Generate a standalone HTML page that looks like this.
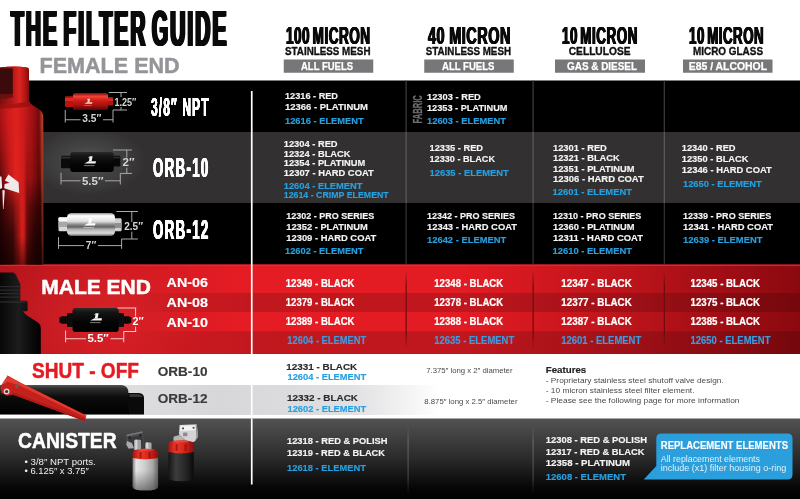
<!DOCTYPE html>
<html lang="en">
<head>
<meta charset="utf-8">
<title>The Filter Guide</title>
<style>
html,body{margin:0;padding:0;background:#fff;}
#root{position:relative;width:800px;height:499px;overflow:hidden;background:#fff;font-family:'Liberation Sans', sans-serif;}
#root svg{position:absolute;left:0;top:0;display:block;}
svg text{font-family:'Liberation Sans', sans-serif;white-space:pre;}
.h{position:absolute;white-space:nowrap;font-weight:bold;line-height:1;transform-origin:0 0;margin:0;}
</style>
</head>
<body>
<div id="root">
<svg width="800" height="499" viewBox="0 0 800 499">
<defs>
<linearGradient id="gRedBand" x1="0" y1="0" x2="800" y2="0" gradientUnits="userSpaceOnUse">
 <stop offset="0" stop-color="#b5141b"/><stop offset="0.10" stop-color="#c8191f"/>
 <stop offset="0.30" stop-color="#e51c24"/><stop offset="0.58" stop-color="#e31b23"/>
 <stop offset="0.80" stop-color="#b9131a"/><stop offset="1" stop-color="#8a090f"/>
</linearGradient>
<linearGradient id="gStripeFade" x1="120" y1="0" x2="800" y2="0" gradientUnits="userSpaceOnUse">
 <stop offset="0" stop-color="#000" stop-opacity="0"/><stop offset="0.19" stop-color="#000" stop-opacity="0.16"/>
 <stop offset="1" stop-color="#000" stop-opacity="0.16"/>
</linearGradient>
<linearGradient id="gCan" x1="0" y1="418" x2="0" y2="499" gradientUnits="userSpaceOnUse">
 <stop offset="0" stop-color="#535353"/><stop offset="0.5" stop-color="#2a2a2a"/><stop offset="0.86" stop-color="#060606"/><stop offset="1" stop-color="#000"/>
</linearGradient>
<linearGradient id="gGrayStripe" x1="0" y1="0" x2="440" y2="0" gradientUnits="userSpaceOnUse">
 <stop offset="0" stop-color="#e6e6e8"/><stop offset="0.5" stop-color="#d7d7d9"/><stop offset="0.8" stop-color="#e0e0e2"/><stop offset="1" stop-color="#ffffff"/>
</linearGradient>
<radialGradient id="gGlow2" cx="88" cy="161" r="58" gradientUnits="userSpaceOnUse" gradientTransform="translate(88 161) scale(1 0.6) translate(-88 -161)">
 <stop offset="0" stop-color="#585858"/><stop offset="0.4" stop-color="#464546"/><stop offset="1" stop-color="#323031" />
</radialGradient>
<radialGradient id="gGlowRed" cx="95" cy="318" r="110" gradientUnits="userSpaceOnUse" gradientTransform="translate(95 318) scale(1 0.6) translate(-95 -318)">
 <stop offset="0" stop-color="#e8323a" stop-opacity="0.32"/><stop offset="1" stop-color="#e8323a" stop-opacity="0"/>
</radialGradient>
<linearGradient id="gBigRed" x1="0" y1="0" x2="43.3" y2="0" gradientUnits="userSpaceOnUse">
 <stop offset="0" stop-color="#a81214"/><stop offset="0.2" stop-color="#cf1c1b"/><stop offset="0.38" stop-color="#df221e"/>
 <stop offset="0.55" stop-color="#c91a1a"/><stop offset="0.75" stop-color="#a01114"/><stop offset="0.9" stop-color="#74090b"/>
 <stop offset="0.96" stop-color="#a8331f"/><stop offset="1" stop-color="#b5432c"/>
</linearGradient>
<linearGradient id="gNeck" x1="0" y1="0" x2="29" y2="0" gradientUnits="userSpaceOnUse">
 <stop offset="0" stop-color="#7a0d0e"/><stop offset="0.45" stop-color="#b81718"/><stop offset="0.68" stop-color="#de241e"/>
 <stop offset="0.9" stop-color="#aa1414"/><stop offset="1" stop-color="#7e0b0c"/>
</linearGradient>
<linearGradient id="gBigDarkH" x1="0" y1="0" x2="43.3" y2="0" gradientUnits="userSpaceOnUse">
 <stop offset="0" stop-color="#2a0303" stop-opacity="0.95"/><stop offset="0.1" stop-color="#2a0303" stop-opacity="0.55"/><stop offset="0.25" stop-color="#2a0303" stop-opacity="0.1"/>
 <stop offset="0.32" stop-color="#e8241f" stop-opacity="0.35"/><stop offset="0.55" stop-color="#e8241f" stop-opacity="0.35"/>
 <stop offset="0.62" stop-color="#2a0303" stop-opacity="0.4"/><stop offset="0.70" stop-color="#2a0303" stop-opacity="0.22"/><stop offset="0.85" stop-color="#2a0303" stop-opacity="0.32"/>
 <stop offset="0.94" stop-color="#2a0303" stop-opacity="0.75"/><stop offset="0.965" stop-color="#2a0303" stop-opacity="0.15"/><stop offset="1" stop-color="#2a0303" stop-opacity="0.25"/>
</linearGradient>
<linearGradient id="gBigLowH" x1="0" y1="0" x2="43.3" y2="0" gradientUnits="userSpaceOnUse">
 <stop offset="0" stop-color="#160202" stop-opacity="0.88"/><stop offset="0.3" stop-color="#160202" stop-opacity="0.84"/><stop offset="0.43" stop-color="#160202" stop-opacity="0.4"/>
 <stop offset="0.5" stop-color="#160202" stop-opacity="0.0"/><stop offset="0.57" stop-color="#160202" stop-opacity="0.05"/><stop offset="0.67" stop-color="#160202" stop-opacity="0.62"/>
 <stop offset="0.8" stop-color="#160202" stop-opacity="0.86"/><stop offset="0.95" stop-color="#160202" stop-opacity="0.88"/><stop offset="0.975" stop-color="#160202" stop-opacity="0.35"/><stop offset="1" stop-color="#160202" stop-opacity="0.4"/>
</linearGradient>
<linearGradient id="gBigBot" x1="0" y1="236" x2="0" y2="264.5" gradientUnits="userSpaceOnUse">
 <stop offset="0" stop-color="#100" stop-opacity="0"/><stop offset="1" stop-color="#100" stop-opacity="0.5"/>
</linearGradient>
<linearGradient id="gBigMaskLow" x1="0" y1="180" x2="0" y2="265" gradientUnits="userSpaceOnUse">
 <stop offset="0" stop-color="#fff" stop-opacity="0"/><stop offset="0.3" stop-color="#fff" stop-opacity="0.6"/><stop offset="0.65" stop-color="#fff" stop-opacity="0.95"/><stop offset="1" stop-color="#fff" stop-opacity="1"/>
</linearGradient>
<mask id="mBigLow" maskUnits="userSpaceOnUse" x="0" y="180" width="44" height="85"><rect x="0" y="180" width="44" height="85" fill="url(#gBigMaskLow)"/></mask>
<linearGradient id="gBigMaskV" x1="0" y1="118" x2="0" y2="265" gradientUnits="userSpaceOnUse">
 <stop offset="0" stop-color="#fff" stop-opacity="0"/><stop offset="0.2" stop-color="#fff" stop-opacity="0.25"/><stop offset="0.45" stop-color="#fff" stop-opacity="0.7"/><stop offset="1" stop-color="#fff" stop-opacity="1"/>
</linearGradient>
<mask id="mBig" maskUnits="userSpaceOnUse" x="0" y="118" width="44" height="147"><rect x="0" y="118" width="44" height="147" fill="url(#gBigMaskV)"/></mask>
<linearGradient id="gSmallRed" x1="0" y1="93" x2="0" y2="110" gradientUnits="userSpaceOnUse">
 <stop offset="0" stop-color="#7e0a0a"/><stop offset="0.2" stop-color="#f04436"/><stop offset="0.42" stop-color="#d21d18"/><stop offset="0.72" stop-color="#a81210"/><stop offset="1" stop-color="#520505"/>
</linearGradient>
<linearGradient id="gBlk10" x1="0" y1="152" x2="0" y2="172" gradientUnits="userSpaceOnUse">
 <stop offset="0" stop-color="#2a2a2a"/><stop offset="0.2" stop-color="#161616"/><stop offset="0.6" stop-color="#050505"/><stop offset="1" stop-color="#000"/>
</linearGradient>
<linearGradient id="gSilver" x1="0" y1="213" x2="0" y2="236" gradientUnits="userSpaceOnUse">
 <stop offset="0" stop-color="#8e8e8e"/><stop offset="0.12" stop-color="#ffffff"/><stop offset="0.36" stop-color="#e0e0e0"/><stop offset="0.5" stop-color="#8c8c8c"/>
 <stop offset="0.6" stop-color="#636363"/><stop offset="0.72" stop-color="#b4b4b4"/><stop offset="0.88" stop-color="#dcdcdc"/><stop offset="1" stop-color="#5e5e5e"/>
</linearGradient>
<linearGradient id="gBlkM" x1="0" y1="308" x2="0" y2="332" gradientUnits="userSpaceOnUse">
 <stop offset="0" stop-color="#2c2c2c"/><stop offset="0.18" stop-color="#141414"/><stop offset="0.6" stop-color="#040404"/><stop offset="1" stop-color="#000"/>
</linearGradient>
<linearGradient id="gBigBlk" x1="0" y1="0" x2="41" y2="0" gradientUnits="userSpaceOnUse">
 <stop offset="0" stop-color="#070707"/><stop offset="0.45" stop-color="#1d1d1d"/><stop offset="0.75" stop-color="#0c0c0c"/><stop offset="1" stop-color="#000"/>
</linearGradient>
<linearGradient id="gShutCyl" x1="0" y1="385" x2="0" y2="415" gradientUnits="userSpaceOnUse">
 <stop offset="0" stop-color="#555"/><stop offset="0.12" stop-color="#2e2e2e"/><stop offset="0.4" stop-color="#0c0c0c"/><stop offset="1" stop-color="#000"/>
</linearGradient>
<linearGradient id="gLever" x1="0" y1="0" x2="0" y2="1">
 <stop offset="0" stop-color="#e23028"/><stop offset="1" stop-color="#b81a17"/>
</linearGradient>
<linearGradient id="gCanSilver" x1="132.6" y1="0" x2="158.1" y2="0" gradientUnits="userSpaceOnUse">
 <stop offset="0" stop-color="#7f7f7f"/><stop offset="0.14" stop-color="#e6e6e6"/><stop offset="0.45" stop-color="#d0d0d0"/><stop offset="0.78" stop-color="#a8a8a8"/><stop offset="1" stop-color="#666"/>
</linearGradient>
<linearGradient id="gCanBlack" x1="168.4" y1="0" x2="193.7" y2="0" gradientUnits="userSpaceOnUse">
 <stop offset="0" stop-color="#151515"/><stop offset="0.3" stop-color="#3c3c3c"/><stop offset="0.7" stop-color="#252525"/><stop offset="1" stop-color="#0a0a0a"/>
</linearGradient>
<linearGradient id="gCanSilverV" x1="0" y1="470" x2="0" y2="490.3" gradientUnits="userSpaceOnUse">
 <stop offset="0" stop-color="#444" stop-opacity="0"/><stop offset="1" stop-color="#333" stop-opacity="0.55"/>
</linearGradient>
<linearGradient id="gCanRed" x1="0" y1="0" x2="1" y2="0">
 <stop offset="0" stop-color="#a81410"/><stop offset="0.3" stop-color="#ee3a2c"/><stop offset="0.7" stop-color="#cf1f18"/><stop offset="1" stop-color="#8c0e0b"/>
</linearGradient>
<linearGradient id="gDivRed" x1="0" y1="270" x2="0" y2="350" gradientUnits="userSpaceOnUse">
 <stop offset="0" stop-color="#6d0a0e" stop-opacity="0"/><stop offset="0.2" stop-color="#6d0a0e" stop-opacity="0.9"/><stop offset="0.8" stop-color="#6d0a0e" stop-opacity="0.9"/><stop offset="1" stop-color="#6d0a0e" stop-opacity="0"/>
</linearGradient>
<linearGradient id="gDivCan" x1="0" y1="425" x2="0" y2="495" gradientUnits="userSpaceOnUse">
 <stop offset="0" stop-color="#777" stop-opacity="0"/><stop offset="0.25" stop-color="#777" stop-opacity="0.7"/><stop offset="0.75" stop-color="#555" stop-opacity="0.7"/><stop offset="1" stop-color="#444" stop-opacity="0"/>
</linearGradient>
</defs>
<rect x="0" y="0" width="800" height="499" fill="#fff"/>
<rect x="0" y="80.5" width="800" height="52" fill="#000"/>
<rect x="0" y="132" width="800" height="71" fill="#323031"/>
<rect x="40" y="132" width="215" height="71" fill="url(#gGlow2)"/>
<rect x="0" y="203" width="800" height="62" fill="#000"/>
<rect x="0" y="264.5" width="800" height="89.5" fill="url(#gRedBand)"/>
<rect x="0" y="264.5" width="260" height="89.5" fill="url(#gGlowRed)"/>
<rect x="120" y="293" width="680" height="19" fill="url(#gStripeFade)"/>
<rect x="120" y="331.25" width="680" height="22.75" fill="url(#gStripeFade)"/>
<rect x="0" y="264.5" width="800" height="1.5" fill="#ee2a31" opacity="0.8"/>
<rect x="0" y="385" width="440" height="30" fill="url(#gGrayStripe)"/>
<rect x="0" y="418.5" width="800" height="81" fill="url(#gCan)"/>
<rect x="250.9" y="91" width="1.7" height="263" fill="#fff"/>
<rect x="250.9" y="385" width="1.7" height="30" fill="#fff"/>
<rect x="250.9" y="418.5" width="1.7" height="66" fill="#fff"/>
<rect x="405.5" y="80.5" width="1.2" height="51.5" fill="#3e3e3e"/>
<rect x="405.5" y="132" width="1.2" height="71" fill="#5c5b5c"/>
<rect x="405.5" y="203" width="1.2" height="61.5" fill="#363636"/>
<rect x="405.5" y="272" width="1.3" height="76" fill="url(#gDivRed)"/>
<rect x="532.5" y="80.5" width="1.2" height="51.5" fill="#3e3e3e"/>
<rect x="532.5" y="132" width="1.2" height="71" fill="#5c5b5c"/>
<rect x="532.5" y="203" width="1.2" height="61.5" fill="#363636"/>
<rect x="532.5" y="272" width="1.3" height="76" fill="url(#gDivRed)"/>
<rect x="663.7" y="80.5" width="1.2" height="51.5" fill="#3e3e3e"/>
<rect x="663.7" y="132" width="1.2" height="71" fill="#5c5b5c"/>
<rect x="663.7" y="203" width="1.2" height="61.5" fill="#363636"/>
<rect x="663.7" y="272" width="1.3" height="76" fill="url(#gDivRed)"/>
<rect x="407.5" y="425" width="1.2" height="70" fill="url(#gDivCan)"/>
<rect x="532.5" y="425" width="1.2" height="70" fill="url(#gDivCan)"/>
<rect x="283.75" y="59.5" width="89.5" height="13.25" fill="#77777a"/>
<text x="285.00" y="54.70" font-size="10.8" fill="#111" font-weight="bold" stroke="#111" stroke-width="0.35" stroke-linejoin="round" textLength="85.50" lengthAdjust="spacingAndGlyphs">STAINLESS MESH</text>
<text x="301.00" y="69.90" font-size="10.2" fill="#fff" font-weight="bold" stroke="#fff" stroke-width="0.25" stroke-linejoin="round" textLength="52.00" lengthAdjust="spacingAndGlyphs">ALL FUELS</text>
<rect x="424.25" y="59.5" width="89.5" height="13.25" fill="#77777a"/>
<text x="425.75" y="54.70" font-size="10.8" fill="#111" font-weight="bold" stroke="#111" stroke-width="0.35" stroke-linejoin="round" textLength="85.25" lengthAdjust="spacingAndGlyphs">STAINLESS MESH</text>
<text x="442.00" y="69.90" font-size="10.2" fill="#fff" font-weight="bold" stroke="#fff" stroke-width="0.25" stroke-linejoin="round" textLength="52.50" lengthAdjust="spacingAndGlyphs">ALL FUELS</text>
<rect x="555" y="59.5" width="90" height="13.25" fill="#77777a"/>
<text x="568.75" y="54.70" font-size="10.8" fill="#111" font-weight="bold" stroke="#111" stroke-width="0.35" stroke-linejoin="round" textLength="61.75" lengthAdjust="spacingAndGlyphs">CELLULOSE</text>
<text x="567.00" y="69.90" font-size="10.2" fill="#fff" font-weight="bold" stroke="#fff" stroke-width="0.25" stroke-linejoin="round" textLength="70.00" lengthAdjust="spacingAndGlyphs">GAS &amp; DIESEL</text>
<rect x="683" y="59.5" width="89.5" height="13.25" fill="#77777a"/>
<text x="693.00" y="54.70" font-size="10.8" fill="#111" font-weight="bold" stroke="#111" stroke-width="0.35" stroke-linejoin="round" textLength="70.00" lengthAdjust="spacingAndGlyphs">MICRO GLASS</text>
<text x="688.75" y="69.90" font-size="10.2" fill="#fff" font-weight="bold" stroke="#fff" stroke-width="0.25" stroke-linejoin="round" textLength="78.25" lengthAdjust="spacingAndGlyphs">E85 / ALCOHOL</text>
<text x="285.00" y="99.20" font-size="9.6" fill="#f4f4f4" font-weight="bold" stroke="#f4f4f4" stroke-width="0.16" stroke-linejoin="round" textLength="53.00" lengthAdjust="spacingAndGlyphs">12316 - RED</text>
<text x="285.00" y="110.00" font-size="9.6" fill="#f4f4f4" font-weight="bold" stroke="#f4f4f4" stroke-width="0.16" stroke-linejoin="round" textLength="83.00" lengthAdjust="spacingAndGlyphs">12366 - PLATINUM</text>
<text x="285.00" y="124.00" font-size="9.6" fill="#27a0e0" font-weight="bold" stroke="#27a0e0" stroke-width="0.16" stroke-linejoin="round" textLength="78.75" lengthAdjust="spacingAndGlyphs">12616 - ELEMENT</text>
<text x="283.75" y="146.75" font-size="9.6" fill="#f4f4f4" font-weight="bold" stroke="#f4f4f4" stroke-width="0.16" stroke-linejoin="round" textLength="53.83" lengthAdjust="spacingAndGlyphs">12304 - RED</text>
<text x="283.75" y="156.75" font-size="9.6" fill="#f4f4f4" font-weight="bold" stroke="#f4f4f4" stroke-width="0.16" stroke-linejoin="round" textLength="66.75" lengthAdjust="spacingAndGlyphs">12324 - BLACK</text>
<text x="283.75" y="166.25" font-size="9.6" fill="#f4f4f4" font-weight="bold" stroke="#f4f4f4" stroke-width="0.16" stroke-linejoin="round" textLength="81.58" lengthAdjust="spacingAndGlyphs">12354 - PLATINUM</text>
<text x="283.75" y="175.75" font-size="9.6" fill="#f4f4f4" font-weight="bold" stroke="#f4f4f4" stroke-width="0.16" stroke-linejoin="round" textLength="90.00" lengthAdjust="spacingAndGlyphs">12307 - HARD COAT</text>
<text x="283.75" y="188.75" font-size="9.6" fill="#27a0e0" font-weight="bold" stroke="#27a0e0" stroke-width="0.16" stroke-linejoin="round" textLength="78.75" lengthAdjust="spacingAndGlyphs">12604 - ELEMENT</text>
<text x="283.75" y="197.50" font-size="9.6" fill="#27a0e0" font-weight="bold" stroke="#27a0e0" stroke-width="0.16" stroke-linejoin="round" textLength="105.00" lengthAdjust="spacingAndGlyphs">12614 - CRIMP ELEMENT</text>
<text x="286.25" y="218.75" font-size="9.6" fill="#f4f4f4" font-weight="bold" stroke="#f4f4f4" stroke-width="0.16" stroke-linejoin="round" textLength="88.00" lengthAdjust="spacingAndGlyphs">12302 - PRO SERIES</text>
<text x="286.25" y="229.50" font-size="9.6" fill="#f4f4f4" font-weight="bold" stroke="#f4f4f4" stroke-width="0.16" stroke-linejoin="round" textLength="81.58" lengthAdjust="spacingAndGlyphs">12352 - PLATINUM</text>
<text x="286.25" y="240.50" font-size="9.6" fill="#f4f4f4" font-weight="bold" stroke="#f4f4f4" stroke-width="0.16" stroke-linejoin="round" textLength="90.00" lengthAdjust="spacingAndGlyphs">12309 - HARD COAT</text>
<text x="285.00" y="253.75" font-size="9.6" fill="#27a0e0" font-weight="bold" stroke="#27a0e0" stroke-width="0.16" stroke-linejoin="round" textLength="78.50" lengthAdjust="spacingAndGlyphs">12602 - ELEMENT</text>
<text x="427.00" y="100.00" font-size="9.6" fill="#f4f4f4" font-weight="bold" stroke="#f4f4f4" stroke-width="0.16" stroke-linejoin="round" textLength="53.83" lengthAdjust="spacingAndGlyphs">12303 - RED</text>
<text x="427.00" y="110.75" font-size="9.6" fill="#f4f4f4" font-weight="bold" stroke="#f4f4f4" stroke-width="0.16" stroke-linejoin="round" textLength="80.50" lengthAdjust="spacingAndGlyphs">12353 - PLATINUM</text>
<text x="427.00" y="124.00" font-size="9.6" fill="#27a0e0" font-weight="bold" stroke="#27a0e0" stroke-width="0.16" stroke-linejoin="round" textLength="79.00" lengthAdjust="spacingAndGlyphs">12603 - ELEMENT</text>
<text x="429.50" y="150.50" font-size="9.6" fill="#f4f4f4" font-weight="bold" stroke="#f4f4f4" stroke-width="0.16" stroke-linejoin="round" textLength="53.50" lengthAdjust="spacingAndGlyphs">12335 - RED</text>
<text x="429.50" y="161.75" font-size="9.6" fill="#f4f4f4" font-weight="bold" stroke="#f4f4f4" stroke-width="0.16" stroke-linejoin="round" textLength="65.50" lengthAdjust="spacingAndGlyphs">12330 - BLACK</text>
<text x="429.50" y="175.75" font-size="9.6" fill="#27a0e0" font-weight="bold" stroke="#27a0e0" stroke-width="0.16" stroke-linejoin="round" textLength="79.25" lengthAdjust="spacingAndGlyphs">12635 - ELEMENT</text>
<text x="427.00" y="219.25" font-size="9.6" fill="#f4f4f4" font-weight="bold" stroke="#f4f4f4" stroke-width="0.16" stroke-linejoin="round" textLength="88.00" lengthAdjust="spacingAndGlyphs">12342 - PRO SERIES</text>
<text x="427.00" y="230.00" font-size="9.6" fill="#f4f4f4" font-weight="bold" stroke="#f4f4f4" stroke-width="0.16" stroke-linejoin="round" textLength="90.00" lengthAdjust="spacingAndGlyphs">12343 - HARD COAT</text>
<text x="427.00" y="243.25" font-size="9.6" fill="#27a0e0" font-weight="bold" stroke="#27a0e0" stroke-width="0.16" stroke-linejoin="round" textLength="79.25" lengthAdjust="spacingAndGlyphs">12642 - ELEMENT</text>
<text x="553.00" y="150.50" font-size="9.6" fill="#f4f4f4" font-weight="bold" stroke="#f4f4f4" stroke-width="0.16" stroke-linejoin="round" textLength="53.83" lengthAdjust="spacingAndGlyphs">12301 - RED</text>
<text x="553.00" y="161.00" font-size="9.6" fill="#f4f4f4" font-weight="bold" stroke="#f4f4f4" stroke-width="0.16" stroke-linejoin="round" textLength="66.75" lengthAdjust="spacingAndGlyphs">12321 - BLACK</text>
<text x="553.00" y="171.75" font-size="9.6" fill="#f4f4f4" font-weight="bold" stroke="#f4f4f4" stroke-width="0.16" stroke-linejoin="round" textLength="81.58" lengthAdjust="spacingAndGlyphs">12351 - PLATINUM</text>
<text x="553.00" y="182.00" font-size="9.6" fill="#f4f4f4" font-weight="bold" stroke="#f4f4f4" stroke-width="0.16" stroke-linejoin="round" textLength="90.75" lengthAdjust="spacingAndGlyphs">12306 - HARD COAT</text>
<text x="552.50" y="195.00" font-size="9.6" fill="#27a0e0" font-weight="bold" stroke="#27a0e0" stroke-width="0.16" stroke-linejoin="round" textLength="79.50" lengthAdjust="spacingAndGlyphs">12601 - ELEMENT</text>
<text x="553.00" y="219.25" font-size="9.6" fill="#f4f4f4" font-weight="bold" stroke="#f4f4f4" stroke-width="0.16" stroke-linejoin="round" textLength="88.25" lengthAdjust="spacingAndGlyphs">12310 - PRO SERIES</text>
<text x="553.00" y="230.00" font-size="9.6" fill="#f4f4f4" font-weight="bold" stroke="#f4f4f4" stroke-width="0.16" stroke-linejoin="round" textLength="81.58" lengthAdjust="spacingAndGlyphs">12360 - PLATINUM</text>
<text x="553.00" y="240.50" font-size="9.6" fill="#f4f4f4" font-weight="bold" stroke="#f4f4f4" stroke-width="0.16" stroke-linejoin="round" textLength="90.00" lengthAdjust="spacingAndGlyphs">12311 - HARD COAT</text>
<text x="552.50" y="253.50" font-size="9.6" fill="#27a0e0" font-weight="bold" stroke="#27a0e0" stroke-width="0.16" stroke-linejoin="round" textLength="79.50" lengthAdjust="spacingAndGlyphs">12610 - ELEMENT</text>
<text x="681.75" y="150.50" font-size="9.6" fill="#f4f4f4" font-weight="bold" stroke="#f4f4f4" stroke-width="0.16" stroke-linejoin="round" textLength="53.83" lengthAdjust="spacingAndGlyphs">12340 - RED</text>
<text x="681.75" y="161.75" font-size="9.6" fill="#f4f4f4" font-weight="bold" stroke="#f4f4f4" stroke-width="0.16" stroke-linejoin="round" textLength="66.75" lengthAdjust="spacingAndGlyphs">12350 - BLACK</text>
<text x="681.75" y="172.50" font-size="9.6" fill="#f4f4f4" font-weight="bold" stroke="#f4f4f4" stroke-width="0.16" stroke-linejoin="round" textLength="90.00" lengthAdjust="spacingAndGlyphs">12346 - HARD COAT</text>
<text x="683.00" y="186.50" font-size="9.6" fill="#27a0e0" font-weight="bold" stroke="#27a0e0" stroke-width="0.16" stroke-linejoin="round" textLength="78.75" lengthAdjust="spacingAndGlyphs">12650 - ELEMENT</text>
<text x="683.00" y="219.25" font-size="9.6" fill="#f4f4f4" font-weight="bold" stroke="#f4f4f4" stroke-width="0.16" stroke-linejoin="round" textLength="88.25" lengthAdjust="spacingAndGlyphs">12339 - PRO SERIES</text>
<text x="683.00" y="230.00" font-size="9.6" fill="#f4f4f4" font-weight="bold" stroke="#f4f4f4" stroke-width="0.16" stroke-linejoin="round" textLength="90.00" lengthAdjust="spacingAndGlyphs">12341 - HARD COAT</text>
<text x="683.00" y="243.25" font-size="9.6" fill="#27a0e0" font-weight="bold" stroke="#27a0e0" stroke-width="0.16" stroke-linejoin="round" textLength="79.50" lengthAdjust="spacingAndGlyphs">12639 - ELEMENT</text>
<text x="285.75" y="286.80" font-size="10.3" fill="#fff" font-weight="bold" stroke="#fff" stroke-width="0.22" stroke-linejoin="round" textLength="68.75" lengthAdjust="spacingAndGlyphs">12349 - BLACK</text>
<text x="285.75" y="306.10" font-size="10.3" fill="#fff" font-weight="bold" stroke="#fff" stroke-width="0.22" stroke-linejoin="round" textLength="68.75" lengthAdjust="spacingAndGlyphs">12379 - BLACK</text>
<text x="285.75" y="325.20" font-size="10.3" fill="#fff" font-weight="bold" stroke="#fff" stroke-width="0.22" stroke-linejoin="round" textLength="68.75" lengthAdjust="spacingAndGlyphs">12389 - BLACK</text>
<text x="287.35" y="343.75" font-size="10.3" fill="#3d9ce0" font-weight="bold" stroke="#3d9ce0" stroke-width="0.16" stroke-linejoin="round" textLength="78.90" lengthAdjust="spacingAndGlyphs">12604 - ELEMENT</text>
<text x="434.25" y="286.80" font-size="10.3" fill="#fff" font-weight="bold" stroke="#fff" stroke-width="0.22" stroke-linejoin="round" textLength="69.00" lengthAdjust="spacingAndGlyphs">12348 - BLACK</text>
<text x="434.25" y="306.10" font-size="10.3" fill="#fff" font-weight="bold" stroke="#fff" stroke-width="0.22" stroke-linejoin="round" textLength="69.00" lengthAdjust="spacingAndGlyphs">12378 - BLACK</text>
<text x="434.25" y="325.20" font-size="10.3" fill="#fff" font-weight="bold" stroke="#fff" stroke-width="0.22" stroke-linejoin="round" textLength="69.00" lengthAdjust="spacingAndGlyphs">12388 - BLACK</text>
<text x="434.25" y="343.75" font-size="10.3" fill="#3d9ce0" font-weight="bold" stroke="#3d9ce0" stroke-width="0.16" stroke-linejoin="round" textLength="80.00" lengthAdjust="spacingAndGlyphs">12635 - ELEMENT</text>
<text x="561.25" y="286.80" font-size="10.3" fill="#fff" font-weight="bold" stroke="#fff" stroke-width="0.22" stroke-linejoin="round" textLength="70.50" lengthAdjust="spacingAndGlyphs">12347 - BLACK</text>
<text x="561.25" y="306.10" font-size="10.3" fill="#fff" font-weight="bold" stroke="#fff" stroke-width="0.22" stroke-linejoin="round" textLength="70.50" lengthAdjust="spacingAndGlyphs">12377 - BLACK</text>
<text x="561.25" y="325.20" font-size="10.3" fill="#fff" font-weight="bold" stroke="#fff" stroke-width="0.22" stroke-linejoin="round" textLength="70.50" lengthAdjust="spacingAndGlyphs">12387 - BLACK</text>
<text x="561.25" y="343.75" font-size="10.3" fill="#3d9ce0" font-weight="bold" stroke="#3d9ce0" stroke-width="0.16" stroke-linejoin="round" textLength="80.00" lengthAdjust="spacingAndGlyphs">12601 - ELEMENT</text>
<text x="690.50" y="286.80" font-size="10.3" fill="#fff" font-weight="bold" stroke="#fff" stroke-width="0.22" stroke-linejoin="round" textLength="69.50" lengthAdjust="spacingAndGlyphs">12345 - BLACK</text>
<text x="690.50" y="306.10" font-size="10.3" fill="#fff" font-weight="bold" stroke="#fff" stroke-width="0.22" stroke-linejoin="round" textLength="69.50" lengthAdjust="spacingAndGlyphs">12375 - BLACK</text>
<text x="690.50" y="325.20" font-size="10.3" fill="#fff" font-weight="bold" stroke="#fff" stroke-width="0.22" stroke-linejoin="round" textLength="69.50" lengthAdjust="spacingAndGlyphs">12385 - BLACK</text>
<text x="690.50" y="343.75" font-size="10.3" fill="#3d9ce0" font-weight="bold" stroke="#3d9ce0" stroke-width="0.16" stroke-linejoin="round" textLength="80.00" lengthAdjust="spacingAndGlyphs">12650 - ELEMENT</text>
<text x="286.25" y="369.50" font-size="9.8" fill="#2b2b2d" font-weight="bold" stroke="#2b2b2d" stroke-width="0.16" stroke-linejoin="round" textLength="71.00" lengthAdjust="spacingAndGlyphs">12331 - BLACK</text>
<text x="287.50" y="380.25" font-size="9.8" fill="#27a0e0" font-weight="bold" stroke="#27a0e0" stroke-width="0.16" stroke-linejoin="round" textLength="78.75" lengthAdjust="spacingAndGlyphs">12604 - ELEMENT</text>
<text x="287.00" y="400.75" font-size="9.8" fill="#2b2b2d" font-weight="bold" stroke="#2b2b2d" stroke-width="0.16" stroke-linejoin="round" textLength="71.00" lengthAdjust="spacingAndGlyphs">12332 - BLACK</text>
<text x="287.50" y="411.50" font-size="9.8" fill="#27a0e0" font-weight="bold" stroke="#27a0e0" stroke-width="0.16" stroke-linejoin="round" textLength="78.75" lengthAdjust="spacingAndGlyphs">12602 - ELEMENT</text>
<text x="426.25" y="373.20" font-size="7.6" fill="#4a4a4a" textLength="86.25" lengthAdjust="spacingAndGlyphs">7.375″ long x 2″ diameter</text>
<text x="424.25" y="404.00" font-size="7.6" fill="#4a4a4a" textLength="93.25" lengthAdjust="spacingAndGlyphs">8.875″ long x 2.5″ diameter</text>
<text x="545.75" y="373.20" font-size="9.6" fill="#222" font-weight="bold" stroke="#222" stroke-width="0.16" stroke-linejoin="round" textLength="40.50" lengthAdjust="spacingAndGlyphs">Features</text>
<text x="545.75" y="382.75" font-size="8.0" fill="#4a4a4a" textLength="178.00" lengthAdjust="spacingAndGlyphs">- Proprietary stainless steel shutoff valve design.</text>
<text x="545.75" y="392.75" font-size="8.0" fill="#4a4a4a" textLength="148.75" lengthAdjust="spacingAndGlyphs">- 10 micron stainless steel filter element.</text>
<text x="545.75" y="402.75" font-size="8.0" fill="#4a4a4a" textLength="193.75" lengthAdjust="spacingAndGlyphs">- Please see the following page for more information</text>
<text x="287.00" y="444.00" font-size="9.8" fill="#f4f4f4" font-weight="bold" stroke="#f4f4f4" stroke-width="0.16" stroke-linejoin="round" textLength="100.50" lengthAdjust="spacingAndGlyphs">12318 - RED &amp; POLISH</text>
<text x="287.00" y="455.75" font-size="9.8" fill="#f4f4f4" font-weight="bold" stroke="#f4f4f4" stroke-width="0.16" stroke-linejoin="round" textLength="98.00" lengthAdjust="spacingAndGlyphs">12319 - RED &amp; BLACK</text>
<text x="287.00" y="470.75" font-size="9.8" fill="#27a0e0" font-weight="bold" stroke="#27a0e0" stroke-width="0.16" stroke-linejoin="round" textLength="79.00" lengthAdjust="spacingAndGlyphs">12618 - ELEMENT</text>
<text x="545.75" y="442.75" font-size="9.8" fill="#f4f4f4" font-weight="bold" stroke="#f4f4f4" stroke-width="0.16" stroke-linejoin="round" textLength="101.25" lengthAdjust="spacingAndGlyphs">12308 - RED &amp; POLISH</text>
<text x="545.75" y="454.50" font-size="9.8" fill="#f4f4f4" font-weight="bold" stroke="#f4f4f4" stroke-width="0.16" stroke-linejoin="round" textLength="98.75" lengthAdjust="spacingAndGlyphs">12317 - RED &amp; BLACK</text>
<text x="545.75" y="465.75" font-size="9.8" fill="#f4f4f4" font-weight="bold" stroke="#f4f4f4" stroke-width="0.16" stroke-linejoin="round" textLength="84.25" lengthAdjust="spacingAndGlyphs">12358 - PLATINUM</text>
<text x="545.75" y="479.75" font-size="9.8" fill="#27a0e0" font-weight="bold" stroke="#27a0e0" stroke-width="0.16" stroke-linejoin="round" textLength="80.25" lengthAdjust="spacingAndGlyphs">12608 - ELEMENT</text>
<text x="24.50" y="464.50" font-size="9.4" fill="#f0f0f0" textLength="71.25" lengthAdjust="spacingAndGlyphs">• 3/8″ NPT ports.</text>
<text x="24.50" y="474.00" font-size="9.4" fill="#f0f0f0" textLength="64.25" lengthAdjust="spacingAndGlyphs">• 6.125″ x 3.75″</text>
<path d="M661.5 433.5 H787.5 Q792.5 433.5 792.5 438.5 V474.5 Q792.5 479.5 787.5 479.5 H643.75 L656.3 466 V438.5 Q656.3 433.5 661.5 433.5 Z" fill="#2a9fdc"/>
<text x="660.75" y="449.00" font-size="10.6" fill="#fff" font-weight="bold" stroke="#fff" stroke-width="0.16" stroke-linejoin="round" textLength="127.25" lengthAdjust="spacingAndGlyphs">REPLACEMENT ELEMENTS</text>
<text x="660.75" y="461.50" font-size="9.0" fill="#e2f1fa" textLength="99.25" lengthAdjust="spacingAndGlyphs">All replacement elements</text>
<text x="660.75" y="470.75" font-size="9.0" fill="#e2f1fa" textLength="125.50" lengthAdjust="spacingAndGlyphs">include (x1) filter housing o-ring</text>
<text x="39.50" y="73.30" font-size="21.4" fill="#949599" font-weight="bold" stroke="#949599" stroke-width="0.5" stroke-linejoin="round" textLength="140.20" lengthAdjust="spacingAndGlyphs">FEMALE END</text>
<text x="41.20" y="294.00" font-size="21.0" fill="#fff" font-weight="bold" stroke="#fff" stroke-width="0.5" stroke-linejoin="round" textLength="109.80" lengthAdjust="spacingAndGlyphs">MALE END</text>
<text x="32.00" y="378.30" font-size="21.2" fill="#e31b23" font-weight="bold" stroke="#e31b23" stroke-width="0.5" stroke-linejoin="round" textLength="107.00" lengthAdjust="spacingAndGlyphs">SHUT - OFF</text>
<text x="18.10" y="448.00" font-size="21.2" fill="#fff" font-weight="bold" stroke="#fff" stroke-width="0.5" stroke-linejoin="round" textLength="98.50" lengthAdjust="spacingAndGlyphs">CANISTER</text>
<text x="166.60" y="286.90" font-size="12.9" fill="#fff" font-weight="bold" stroke="#fff" stroke-width="0.16" stroke-linejoin="round" textLength="41.40" lengthAdjust="spacingAndGlyphs">AN-06</text>
<text x="166.60" y="306.70" font-size="12.9" fill="#fff" font-weight="bold" stroke="#fff" stroke-width="0.16" stroke-linejoin="round" textLength="41.40" lengthAdjust="spacingAndGlyphs">AN-08</text>
<text x="166.60" y="326.70" font-size="12.9" fill="#fff" font-weight="bold" stroke="#fff" stroke-width="0.16" stroke-linejoin="round" textLength="41.40" lengthAdjust="spacingAndGlyphs">AN-10</text>
<text x="157.70" y="376.00" font-size="13.6" fill="#3b3b3d" font-weight="bold" stroke="#3b3b3d" stroke-width="0.16" stroke-linejoin="round" textLength="49.80" lengthAdjust="spacingAndGlyphs">ORB-10</text>
<text x="157.70" y="403.30" font-size="13.6" fill="#3b3b3d" font-weight="bold" stroke="#3b3b3d" stroke-width="0.16" stroke-linejoin="round" textLength="49.80" lengthAdjust="spacingAndGlyphs">ORB-12</text>
<text transform="translate(422 123.4) rotate(-90)" font-size="12.4" font-weight="bold" fill="#707070" stroke="#707070" stroke-width="0.3" textLength="28.2" lengthAdjust="spacingAndGlyphs">FABRIC</text>
<path d="M0 67.6 Q14 65.6 27 67.4 Q29 67.8 29 70 V100.5 Q29.3 103 33 105.5 Q43.3 110.5 43.3 116 V264.5 H0 Z" fill="url(#gBigRed)"/>
<path d="M0 67.6 Q14 65.6 27 67.4 Q29 67.8 29 70 V100.5 Q22 104 0 104.5 Z" fill="url(#gNeck)"/>
<path d="M0 104.5 Q22 104 29 100.5 Q29.3 103 33 105.5 Q20 108.5 0 108.5 Z" fill="#7d0d0b" opacity="0.55"/>
<path d="M0 68.4 H12.8 V94.5 H0 Z" fill="#3a0b0a"/>
<path d="M0 94.5 H12.8 V97 Q8 99 0 99 Z" fill="#6d0f0d"/>
<rect x="0" y="118" width="43.3" height="146.5" fill="url(#gBigDarkH)" mask="url(#mBig)"/>
<rect x="0" y="180" width="43.3" height="84.5" fill="url(#gBigLowH)" mask="url(#mBigLow)"/>
<rect x="0" y="236" width="43.3" height="28.5" fill="url(#gBigBot)"/>
<path d="M8.4 174.4 L18.6 182.2 L19.2 193 L4.2 188.2 L4.6 184 L9.6 182.8 L4.8 180.4 Z" fill="#efeaea"/>
<path d="M0 176.5 H1.5 L2.2 188 L0 189 Z" fill="#efeaea"/>
<path d="M2.4 190 L4.8 190.4 L3.5 209 L3 209 Z" fill="#efeaea"/>
<rect x="65" y="96.3" width="9" height="10.7" rx="1" fill="#b81512"/>
<rect x="65" y="98" width="9" height="3" fill="#e5342a" opacity="0.7"/>
<rect x="107" y="97" width="6" height="8.5" rx="1" fill="#b01310"/>
<rect x="107" y="98.5" width="6" height="2.5" fill="#e5342a" opacity="0.7"/>
<rect x="73" y="93" width="35" height="17" rx="2.6" fill="url(#gSmallRed)"/>
<g fill="#f6e4e4" opacity="0.95"><polygon points="88.11,98.74 90.07,98.74 89.37,102.31 87.41,102.31"/><polygon points="86.92,99.79 88.11,98.74 87.90,100.07"/><polygon points="84.26,103.78 87.20,102.31 92.45,102.31 92.10,103.78"/><rect x="84.05" y="105.04" width="7.35" height="0.63" opacity="0.55"/></g>
<path stroke="#a9a9a9" stroke-width="1.0" fill="none" d="M65.25 110 V122.5 M113 110 V122.5 M65.25 119.75 H80.5 M103 119.75 H113 M121 92.5 V97 M121 107 V110 M108.75 92.5 H127 M113 110 H127"/>
<text x="82.25" y="122" font-size="10.4" font-weight="bold" fill="#d6d6d6" textLength="19.0" lengthAdjust="spacingAndGlyphs">3.5″</text>
<text x="114.5" y="105.7" font-size="10.6" font-weight="bold" fill="#d6d6d6" textLength="21.900000000000006" lengthAdjust="spacingAndGlyphs">1.25″</text>
<rect x="61" y="155.8" width="10.5" height="12.4" rx="1" fill="#0a0a0a"/>
<rect x="61" y="156.6" width="10.5" height="2" fill="#2e2e2e"/>
<rect x="112.5" y="155.8" width="7.8" height="10.6" rx="1" fill="#080808"/>
<rect x="112.5" y="156.6" width="7.8" height="1.8" fill="#2a2a2a"/>
<rect x="70.2" y="152" width="43.6" height="20" rx="3" fill="url(#gBlk10)"/>
<g fill="#f4f4f4" opacity="1.0"><polygon points="89.80,156.20 92.60,156.20 91.60,161.30 88.80,161.30"/><polygon points="88.10,157.70 89.80,156.20 89.50,158.10"/><polygon points="84.30,163.40 88.50,161.30 96.00,161.30 95.50,163.40"/><rect x="84.00" y="165.20" width="10.50" height="0.90" opacity="0.55"/></g>
<path stroke="#a9a9a9" stroke-width="1.0" fill="none" d="M61 172.75 V184.5 M120.3 173.4 V184.5 M61 180.8 H80.5 M105 180.8 H120.3 M126.8 150 V157.6 M126.8 167.6 V173.4 M113 150 H132 M120.3 173.4 H132"/>
<text x="82" y="184.8" font-size="10.8" font-weight="bold" fill="#d6d6d6" textLength="21.400000000000006" lengthAdjust="spacingAndGlyphs">5.5″</text>
<text x="122.6" y="166.4" font-size="10.4" font-weight="bold" fill="#d6d6d6" textLength="12.0" lengthAdjust="spacingAndGlyphs">2″</text>
<rect x="58.5" y="217" width="10" height="14.3" rx="1.2" fill="#d8d8d8"/>
<rect x="58.5" y="222" width="10" height="5" fill="#a9a9a9"/>
<rect x="58.5" y="218" width="10" height="3" fill="#fafafa"/>
<rect x="114" y="218.2" width="7.6" height="13" rx="1.2" fill="#cfcfcf"/>
<rect x="114" y="223" width="7.6" height="5" fill="#8f8f8f"/>
<rect x="67" y="213" width="48" height="23" rx="4.6" fill="url(#gSilver)"/>
<g fill="#ffffff" opacity="1.0"><polygon points="89.30,218.20 92.10,218.20 91.10,223.30 88.30,223.30"/><polygon points="87.60,219.70 89.30,218.20 89.00,220.10"/><polygon points="83.80,225.40 88.00,223.30 95.50,223.30 95.00,225.40"/><rect x="83.50" y="227.20" width="10.50" height="0.90" opacity="0.55"/></g>
<path stroke="#a9a9a9" stroke-width="1.0" fill="none" d="M58.5 237 V248.8 M121.6 239 V248.8 M58.5 245.6 H84 M98 245.6 H121.6 M131.8 211.5 V222 M131.8 231.6 V239 M116.4 211.5 H137.9 M121.6 239 H137.9"/>
<text x="85.8" y="249" font-size="10.2" font-weight="bold" fill="#d6d6d6" textLength="10.400000000000006" lengthAdjust="spacingAndGlyphs">7″</text>
<text x="124.2" y="230.3" font-size="10.0" font-weight="bold" fill="#d6d6d6" textLength="18.799999999999997" lengthAdjust="spacingAndGlyphs">2.5″</text>
<path d="M0 272.5 H13 Q15.5 273 17 277 L20.3 284 V300.8 H26.5 Q27.6 300.8 27.6 302 V310 Q27.6 311.2 26.5 311.2 H23 Q24 313 27 315.5 L38 322.5 Q40.8 324.5 40.8 328 V354 H0 Z" fill="url(#gBigBlk)"/>
<rect x="0" y="286" width="20.3" height="1.2" fill="#2b2b2b"/>
<rect x="0" y="289.5" width="20.3" height="1.2" fill="#2b2b2b"/>
<rect x="0" y="293" width="20.3" height="1.2" fill="#2b2b2b"/>
<rect x="0" y="296.5" width="20.3" height="1.2" fill="#2b2b2b"/>
<rect x="0" y="301.4" width="27" height="1.2" fill="#2f2f2f"/>
<path d="M59.4 317.6 L62 316.2 H67.5 V323.8 H62 L59.4 322.4 Z" fill="#0a0a0a"/>
<rect x="67" y="313" width="6" height="14" rx="1" fill="#0d0d0d"/>
<path d="M131.3 317.6 L128.7 316.2 H123.3 V323.8 H128.7 L131.3 322.4 Z" fill="#0a0a0a"/>
<rect x="118" y="313" width="6" height="14" rx="1" fill="#0d0d0d"/>
<rect x="72.5" y="308" width="46.3" height="24" rx="3.2" fill="url(#gBlkM)"/>
<g fill="#f4f4f4" opacity="1.0"><polygon points="95.80,313.20 98.60,313.20 97.60,318.30 94.80,318.30"/><polygon points="94.10,314.70 95.80,313.20 95.50,315.10"/><polygon points="90.30,320.40 94.50,318.30 102.00,318.30 101.50,320.40"/><rect x="90.00" y="322.20" width="10.50" height="0.90" opacity="0.55"/></g>
<path stroke="#f3c9cb" stroke-width="1.0" fill="none" d="M65.6 330.6 V342.25 M123.75 331.5 V342.25 M65.6 338.75 H86 M110.5 338.75 H123.75 M135.6 308 V316.6 M135.6 326.6 V331.5 M117.5 308 H136.25 M123.75 331.5 H136.25"/>
<text x="87.5" y="342.4" font-size="10.6" font-weight="bold" fill="#fff" textLength="21.25" lengthAdjust="spacingAndGlyphs">5.5″</text>
<text x="132.5" y="325.2" font-size="10.4" font-weight="bold" fill="#fff" textLength="11.25" lengthAdjust="spacingAndGlyphs">2″</text>
<path d="M128 393 H139 Q144 393.5 144 398 V414.5 H128 Z" fill="#0a0a0a"/>
<path d="M129.5 394 H138.5 Q141.5 394.5 142.5 397 H129.5 Z" fill="#333"/>
<path d="M0 385 H122 Q128.5 386 128.5 393 V414.5 H0 Z" fill="url(#gShutCyl)"/>
<path d="M7.5 375.6 L20 382.5 L86.3 415.6 L85 421.3 L12.5 394.6 L7 395.8 L1.6 393 L0.4 388 L1.6 384.4 L6.2 382 Z" fill="#c4201c"/>
<path d="M7.5 375.6 L20 382.5 L86.3 415.6 L85.9 417.4 L19 385.2 L6.4 381.4 Z" fill="#e23a2e"/>
<path d="M12.5 394.6 L85 421.3 L85.5 419.3 L13 392.4 Z" fill="#ae1a17"/>
<path d="M7.5 375.6 L6.4 381.4 L6.2 382 L1.6 384.4 L6.6 377 Z" fill="#d93229"/>
<circle cx="6.6" cy="391.4" r="2.9" fill="#d9d4d0"/><circle cx="6.6" cy="391.4" r="1.5" fill="#3a2a28"/>
<circle cx="17" cy="386.2" r="1.9" fill="#6a5a58"/>
<path d="M126.3 434.8 L142.4 431.3 L144.1 440.4 L143.1 447.4 L128.4 448.6 L126.3 444.6 Z" fill="#4b4b4e"/>
<path d="M128 438 L142 435 L143.4 441 L142.6 446.6 L129.4 447.6 Z" fill="#38383a"/>
<path d="M126.3 434.8 L142.4 431.3 L142.7 432.8 L127 436.2 Z" fill="#77777a"/>
<path d="M126.3 444.6 L128.4 448.6 L134 448.2 L132 443 L127 441 Z" fill="#a9a9ac"/>
<circle cx="129.6" cy="437.6" r="1" fill="#111"/><circle cx="140.4" cy="435.2" r="1" fill="#111"/>
<rect x="134" y="439.7" width="7" height="10.5" rx="1.2" fill="#9fa0a3"/>
<rect x="135.2" y="439.7" width="2.2" height="10.5" fill="#d5d5d8"/>
<rect x="145.2" y="442.5" width="6.3" height="7" rx="1.2" fill="#a9aaad"/>
<rect x="146.2" y="442.5" width="2" height="7" fill="#dcdcde"/>
<path d="M132.6 452.4 Q132.6 448.8 145.4 448.8 Q158.1 448.8 158.1 452.4 V459.5 H132.6 Z" fill="url(#gCanRed)"/>
<path d="M136 449.6 Q145 448 155 449.8 Q146 451.6 136 449.6 Z" fill="#f0584a" opacity="0.7"/>
<path d="M132.6 458 Q145.4 460.6 158.1 458 V486.4 Q158.1 490.3 145.4 490.3 Q132.6 490.3 132.6 486.4 Z" fill="url(#gCanSilver)"/>
<path d="M132.6 470 H158.1 V486.4 Q158.1 490.3 145.4 490.3 Q132.6 490.3 132.6 486.4 Z" fill="url(#gCanSilverV)"/>
<rect x="139.5" y="452" width="2.2" height="6.5" rx="0.8" fill="#8f100d" opacity="0.7"/><rect x="148.5" y="452" width="2.2" height="6.5" rx="0.8" fill="#8f100d" opacity="0.7"/>
<path d="M174 436.8 L180 434.4 L195.4 441 L189.5 443.6 Z" fill="#a9a9ad"/>
<path d="M179.6 424.9 L196.7 424.2 L198.1 436.8 L195.1 441 L189.5 443.1 L178.9 434 Z" fill="#d4d4d7"/>
<path d="M180.4 425.8 L196 425.2 L196.5 430 L180.2 431 Z" fill="#f3f3f5"/>
<path d="M195.1 441 L198.1 436.8 L196.7 424.2 L195.6 424.3 L196.4 436.4 Z" fill="#8f8f92"/>
<circle cx="183" cy="428.4" r="1.1" fill="#555"/><circle cx="193.6" cy="427.8" r="1.1" fill="#555"/>
<rect x="183" y="432.6" width="4.4" height="3.6" rx="0.8" fill="#8e8e91"/>
<rect x="173.5" y="436.6" width="9" height="4.6" rx="1" fill="#b4b4b7"/>
<path d="M168.4 444 Q168.4 440.3 181 440.3 Q193.7 440.3 193.7 444 V454 H168.4 Z" fill="url(#gCanRed)"/>
<path d="M172 441.4 Q181 439.6 190.5 441.5 Q181 443.4 172 441.4 Z" fill="#f0584a" opacity="0.6"/>
<rect x="175.5" y="444" width="2.2" height="7" rx="0.8" fill="#8f100d" opacity="0.7"/><rect x="184.5" y="444" width="2.2" height="7" rx="0.8" fill="#8f100d" opacity="0.7"/>
<path d="M168.4 452 Q181 454.8 193.7 452 V477.4 Q193.7 481.2 181 481.2 Q168.4 481.2 168.4 477.4 Z" fill="url(#gCanBlack)"/>
</svg>
<div class="h" style="left:11.00px;top:4.91px;font-size:49.13px;color:#0a0a0a;letter-spacing:4.94px;word-spacing:-8.47px;transform:scaleX(0.4252);text-shadow:2.82px 0 0 #0a0a0a,-2.82px 0 0 #0a0a0a,1.41px 0 0 #0a0a0a,-1.41px 0 0 #0a0a0a">THE FILTER GUIDE</div>
<div class="h" style="left:285.95px;top:24.21px;font-size:24.56px;color:#0a0a0a;letter-spacing:0.90px;word-spacing:-3.26px;transform:scaleX(0.5525);text-shadow:0.90px 0 0 #0a0a0a,-0.90px 0 0 #0a0a0a,0.45px 0 0 #0a0a0a,-0.45px 0 0 #0a0a0a">100 MICRON</div>
<div class="h" style="left:427.70px;top:24.21px;font-size:24.56px;color:#0a0a0a;letter-spacing:0.85px;word-spacing:-0.85px;transform:scaleX(0.5899);text-shadow:0.85px 0 0 #0a0a0a,-0.85px 0 0 #0a0a0a,0.42px 0 0 #0a0a0a,-0.42px 0 0 #0a0a0a">40 MICRON</div>
<div class="h" style="left:561.70px;top:24.21px;font-size:24.56px;color:#0a0a0a;letter-spacing:0.91px;word-spacing:-3.29px;transform:scaleX(0.5473);text-shadow:0.91px 0 0 #0a0a0a,-0.91px 0 0 #0a0a0a,0.46px 0 0 #0a0a0a,-0.46px 0 0 #0a0a0a">10 MICRON</div>
<div class="h" style="left:689.20px;top:24.21px;font-size:24.56px;color:#0a0a0a;letter-spacing:0.92px;word-spacing:-3.32px;transform:scaleX(0.5417);text-shadow:0.92px 0 0 #0a0a0a,-0.92px 0 0 #0a0a0a,0.46px 0 0 #0a0a0a,-0.46px 0 0 #0a0a0a">10 MICRON</div>
<div class="h" style="left:150.60px;top:93.91px;font-size:26.45px;color:#fff;letter-spacing:2.17px;transform:scaleX(0.4613);text-shadow:0.11px 0 0 #fff,-0.11px 0 0 #fff,0.05px 0 0 #fff,-0.05px 0 0 #fff">3/8″ NPT</div>
<div class="h" style="left:152.90px;top:155.11px;font-size:27.03px;color:#fff;letter-spacing:2.64px;transform:scaleX(0.4922);text-shadow:0.57px 0 0 #fff,-0.57px 0 0 #fff,0.28px 0 0 #fff,-0.28px 0 0 #fff">ORB-10</div>
<div class="h" style="left:152.90px;top:216.51px;font-size:27.03px;color:#fff;letter-spacing:2.64px;transform:scaleX(0.4922);text-shadow:0.57px 0 0 #fff,-0.57px 0 0 #fff,0.28px 0 0 #fff,-0.28px 0 0 #fff">ORB-12</div>
</div>
</body>
</html>
